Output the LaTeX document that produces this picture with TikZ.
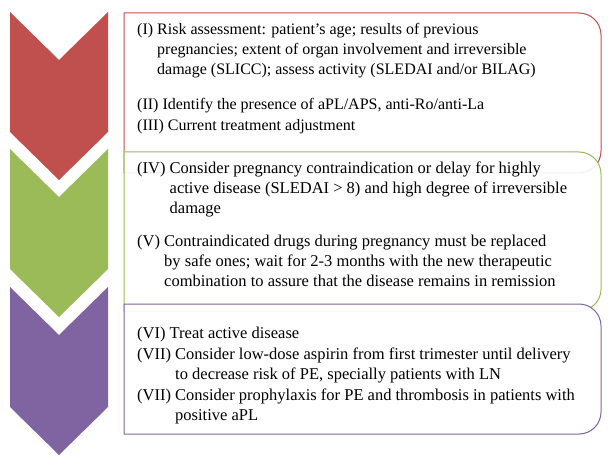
\documentclass[tikz,border=0pt]{standalone}
\usepackage{fontspec}
\setmainfont{Liberation Serif}
\definecolor{cred}{HTML}{C0504D}
\definecolor{cgreen}{HTML}{9BBB59}
\definecolor{cpurple}{HTML}{8064A2}
\begin{document}
\begin{tikzpicture}[x=1pt,y=1pt,
  chev/.style={fill=#1, draw=none},
  stage/.style={draw=#1, line width=1pt, fill=white, fill opacity=0.9},
  item/.style={anchor=base west, inner sep=0pt, align=left, font=\fontsize{16}{20}\selectfont},
  itemb/.style={item, font=\fontsize{16.5}{20}\selectfont}]
\useasboundingbox (0,0) rectangle (612,466);
% chevrons
\fill[chev=cred]    (10,454) -- (59,406) -- (108,454) -- (108,334) -- (59,286) -- (10,334) -- cycle;
\fill[chev=cgreen]  (10,317) -- (59,269) -- (108,317) -- (108,197) -- (59,149) -- (10,197) -- cycle;
\fill[chev=cpurple] (10,179) -- (59,131) -- (108,179) -- (108,59) -- (59,11) -- (10,59) -- cycle;
% boxes
\draw[stage=cred] (124,453) -- (579,453) arc[start angle=90,end angle=0,radius=22]
  -- (601,315) arc[start angle=0,end angle=-90,radius=22] -- (124,293) -- cycle;
\draw[stage=cgreen] (124,314) -- (579,314) arc[start angle=90,end angle=0,radius=22]
  -- (601,177) arc[start angle=0,end angle=-90,radius=22] -- (124,155) -- cycle;
\draw[stage=cpurple] (124,162) -- (579,162) arc[start angle=90,end angle=0,radius=22]
  -- (601,54) arc[start angle=0,end angle=-90,radius=22] -- (124,32) -- cycle;
% texts
\node[item] (i1) at (137,431) {(I) \begin{tabular}[t]{@{}l@{}}Risk assessment: patient's age; results of previous\\
  pregnancies; extent of organ involvement and irreversible\\
  damage (SLICC); assess activity (SLEDAI and/or BILAG)\end{tabular}};
\node[item] (i2) at (137,356) {(II) Identify the presence of aPL/APS, anti-Ro/anti-La};
\node[item] (i3) at (137,335) {(III) Current treatment adjustment};
\node[itemb] (i4) at (137,292) {(IV) \begin{tabular}[t]{@{}l@{}}Consider pregnancy contraindication or delay for highly\\
  active disease (SLEDAI > 8) and high degree of irreversible\\
  damage\end{tabular}};
\node[itemb] (i5) at (137,219) {(V) \begin{tabular}[t]{@{}l@{}}Contraindicated drugs during pregnancy must be replaced\\
  by safe ones; wait for 2-3 months with the new therapeutic\\
  combination to assure that the disease remains in remission\end{tabular}};
\node[itemb] (i6) at (137,128) {(VI) Treat active disease};
\node[itemb] (i7) at (137,107) {(VII) \begin{tabular}[t]{@{}l@{}}Consider low-dose aspirin from first trimester until delivery\\
  to decrease risk of PE, specially patients with LN\end{tabular}};
\node[itemb] (i8) at (137,66) {(VII) \begin{tabular}[t]{@{}l@{}}Consider prophylaxis for PE and thrombosis in patients with\\
  positive aPL\end{tabular}};
\end{tikzpicture}
\end{document}
